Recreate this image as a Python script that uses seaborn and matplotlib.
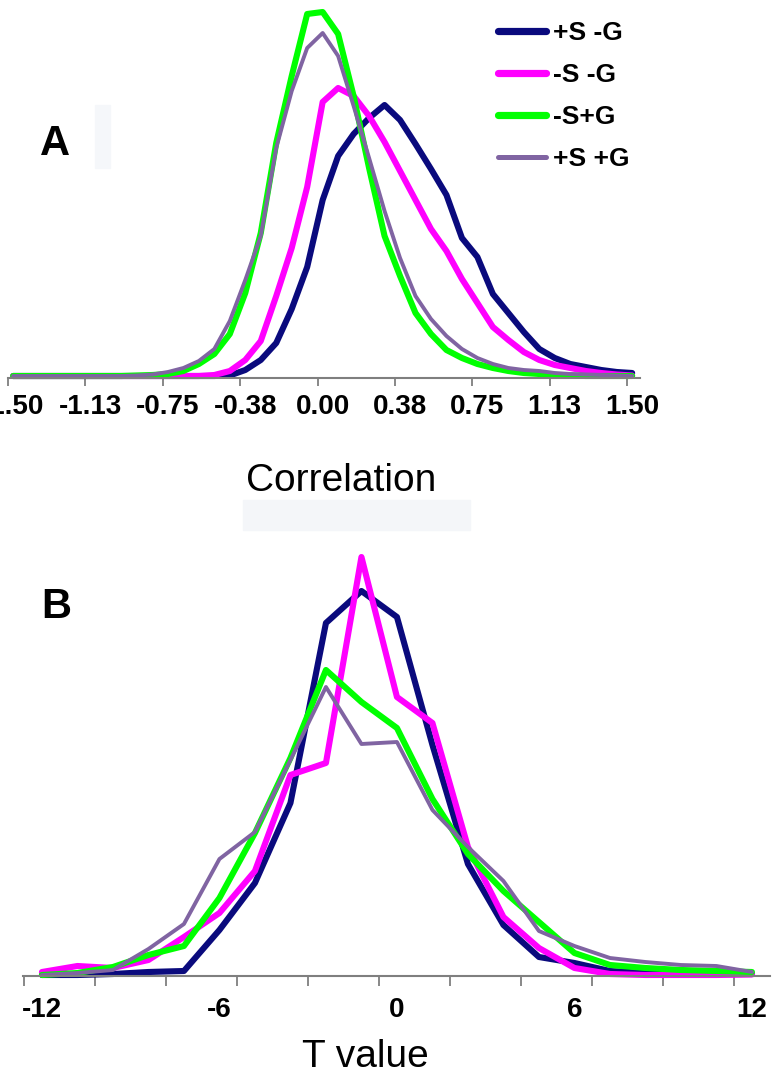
import matplotlib
matplotlib.use("Agg")
import matplotlib.pyplot as plt
import matplotlib.transforms as mtransforms
import seaborn as sns
from matplotlib.patches import Rectangle

# Panel A: distribution of correlations (bin centres)
corr_x = [-1.475, -1.400, -1.325, -1.250, -1.175, -1.100, -1.025, -0.950, -0.875,
          -0.800, -0.725, -0.650, -0.575, -0.500, -0.425, -0.350, -0.275, -0.200,
          -0.125, -0.050, 0.025, 0.100, 0.175, 0.250, 0.325, 0.400, 0.475, 0.550,
          0.625, 0.700, 0.775, 0.850, 0.925, 1.000, 1.075, 1.150, 1.225, 1.300,
          1.375, 1.450, 1.525]
corr_ps_ng = [0, 0, 0, 0, 0, 0, 0, 0, 0, 0, 0, 0, 0, 0, 0.5, 6, 16, 33, 67, 109, 176,
              220, 242, 258, 271, 256, 232, 207, 181, 138, 119, 82, 63, 44, 27, 18,
              12, 9, 6, 4, 3]
corr_ns_ng = [0, 0, 0, 0, 0, 0, 0, 0, 0, 0, 0, 0, 0, 1, 5, 16, 35, 80, 128, 189, 274,
              288, 280, 260, 234, 205, 176, 147, 125, 97, 73, 49, 36, 24, 16, 11, 8,
              5, 3, 1.5, 0.5]
corr_ns_pg = [0, 0, 0, 0, 0, 0, 0, 0, 0.5, 1, 2, 5, 12, 22, 42, 83, 143, 233, 300,
              362, 364, 342, 280, 208, 140, 100, 63, 42, 26, 18, 12, 8, 5, 3, 2, 1,
              0.5, 0, 0, 0, 0]
corr_ps_pg = [0, 0, 0, 0, 0, 0, 0, 0, 0.5, 1.5, 4, 8, 15, 27, 55, 96, 140, 228, 285,
              328, 343, 320, 270, 218, 165, 118, 80, 57, 40, 27, 18, 12, 8, 6, 5, 3,
              2, 1.5, 1, 0.5, 0]
corr_ticks = [-1.5, -1.125, -0.75, -0.375, 0.0, 0.375, 0.75, 1.125, 1.5]
corr_tick_labels = ['-1.50', '-1.13', '-0.75', '-0.38', '0.00', '0.38', '0.75', '1.13', '1.50']

# Panel B: distribution of T values
t_x = [-12.0, -10.8, -9.6, -8.4, -7.2, -6.0, -4.8, -3.6, -2.4, -1.2, 0.0, 1.2, 2.4,
       3.6, 4.8, 6.0, 7.2, 8.4, 9.6, 10.8, 12.0]
t_ps_ng = [0, 0, 1, 3, 4, 45, 92, 172, 352, 384, 358, 230, 111, 50, 18, 12, 4, 2, 1.5, 1, 1]
t_ns_ng = [3, 9, 7, 15, 38, 62, 104, 200, 212, 418, 278, 252, 128, 58, 27, 7, 1, 0, 0, 0, 0.5]
t_ns_pg = [0, 2, 8, 20, 29, 77, 142, 217, 305, 273, 247, 176, 121, 84, 53, 22, 10, 7, 5, 4, 3]
t_ps_pg = [0, 2, 5, 26, 51, 116, 143, 215, 288, 231, 233, 165, 128, 94, 44, 29, 17, 13, 10, 9, 3]
t_ticks = [-12, -6, 0, 6, 12]
t_minor = [-12.6, -10.2, -7.8, -5.4, -3.0, -0.6, 1.8, 4.2, 6.6, 9.0, 11.4]

names = ['+S -G', '-S -G', '-S+G', '+S +G']
colors = ['#0a0a7d', '#ff00ff', '#00ff00', '#8064a2']
widths = [4.4, 4.4, 4.4, 2.8]

sns.set_style('white')
plt.rcParams['font.family'] = ['Liberation Sans', 'DejaVu Sans']
plt.rcParams['text.color'] = 'black'
plt.rcParams['axes.labelcolor'] = 'black'
plt.rcParams['xtick.color'] = 'black'

fig = plt.figure(figsize=(7.79, 10.75), dpi=100)
W, H = 779, 1075
axA = fig.add_axes([8 / W, 1 - 378 / H, 632 / W, 368 / H])
axB = fig.add_axes([23 / W, 1 - 976 / H, 747 / W, 426 / H])

# faint scan artefacts in the original figure
fig.add_artist(Rectangle((243 / W, 1 - 530 / H), 227 / W, 30 / H,
                         transform=fig.transFigure, color='#f4f6f9', zorder=-1))
fig.add_artist(Rectangle((95 / W, 1 - 168 / H), 15 / W, 63 / H,
                         transform=fig.transFigure, color='#f5f7fa', zorder=-1))

seriesA = [corr_ps_ng, corr_ns_ng, corr_ns_pg, corr_ps_pg]
for vals, name, c, lw in zip(seriesA, names, colors, widths):
    sns.lineplot(x=corr_x, y=vals, color=c, linewidth=lw, label=name, ax=axA,
                 clip_on=False, legend=False)

seriesB = [t_ps_ng, t_ns_ng, t_ns_pg, t_ps_pg]
for vals, c, lw in zip(seriesB, colors, widths):
    sns.lineplot(x=t_x, y=vals, color=c, linewidth=lw, ax=axB,
                 clip_on=False, legend=False)

axis_grey = '#7f7f7f'
for ax in (axA, axB):
    ax.set_facecolor('none')
    sns.despine(ax=ax, left=True)
    ax.spines['bottom'].set_color(axis_grey)
    ax.spines['bottom'].set_linewidth(1.5)
    ax.set_yticks([])
    ax.set_ylabel('')

# panel A axis
axA.set_xlim(-1.5, 1.563)
axA.set_ylim(-2, 366)
axA.set_xticks(corr_ticks)
axA.set_xticklabels(corr_tick_labels)
axA.tick_params(axis='x', bottom=True, direction='out', length=5.5, width=1.3,
                color=axis_grey, labelcolor='black', pad=6, labelsize=20)
shift = mtransforms.ScaledTranslation(5 / 100, 0, fig.dpi_scale_trans)
for lab in axA.get_xticklabels():
    lab.set_fontweight('bold')
    lab.set_transform(lab.get_transform() + shift)
axA.set_xlabel('Correlation', fontsize=28, va='baseline')
axA.xaxis.set_label_coords(0.527, -0.307)

leg = axA.legend(loc='upper left', bbox_to_anchor=(498 / W, 1 - 21 / H),
                 bbox_transform=fig.transFigure, frameon=False,
                 prop={'weight': 'bold', 'size': 19}, handlelength=1.8,
                 handletextpad=0.3, labelspacing=0.68, borderpad=0, borderaxespad=0)
for line in leg.get_lines():
    line.set_linewidth(line.get_linewidth() + 0.8)

# panel B axis
axB.set_xlim(-12.64, 12.61)
axB.set_ylim(-1, 425)
axB.set_xticks(t_ticks)
axB.set_xticklabels([str(t) for t in t_ticks])
axB.set_xticks(t_minor, minor=True)
axB.tick_params(axis='x', which='major', bottom=True, length=0, pad=15,
                labelsize=20, labelcolor='black')
axB.tick_params(axis='x', which='minor', bottom=True, direction='out', length=7,
                width=1.3, color=axis_grey)
for lab in axB.get_xticklabels():
    lab.set_fontweight('bold')
axB.set_xlabel('T value', fontsize=28, va='baseline')
axB.xaxis.set_label_coords(0.459, -0.2136)

fig.text(55 / W, 1 - 155 / H, 'A', fontsize=30, fontweight='bold', ha='center', va='baseline')
fig.text(56 / W, 1 - 618 / H, 'B', fontsize=30, fontweight='bold', ha='center', va='baseline')

fig.savefig('out.png', dpi=100)
